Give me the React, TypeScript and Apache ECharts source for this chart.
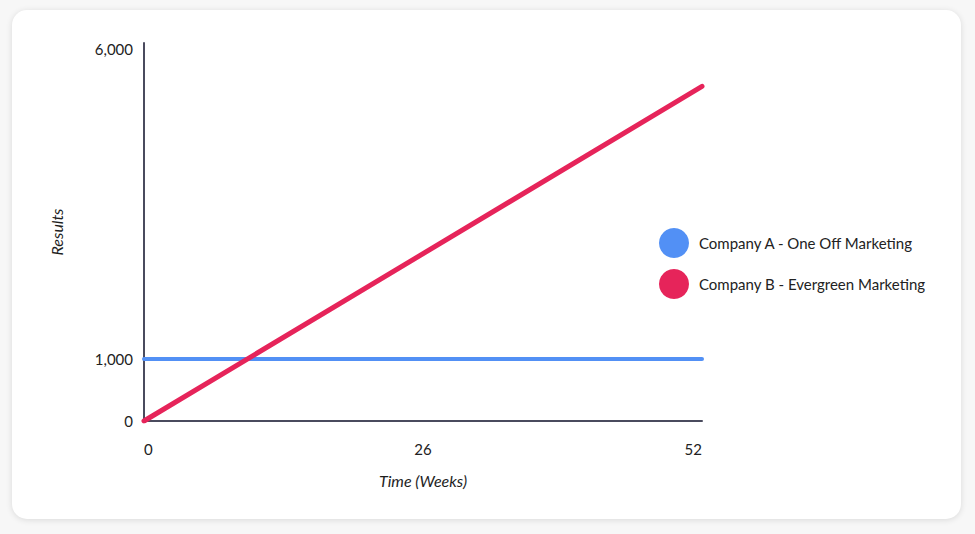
import React, { useEffect, useRef } from "react";
import * as echarts from "echarts";

const weeks = [0, 52];
const companyA = [1000, 1000];
const companyB = [0, 5400];
const yTicks = [0, 1000, 6000];
const xTicks = [0, 26, 52];
const seriesNames = ["Company A - One Off Marketing", "Company B - Evergreen Marketing"];

export default function App() {
  const ref = useRef<HTMLDivElement>(null);
  useEffect(() => {
    if (!ref.current) return;
    const chart = echarts.init(ref.current, null, { renderer: "svg" });
    const font = "Lato, 'Noto Sans', sans-serif";
    chart.setOption({
      animation: false,
      textStyle: { fontFamily: font },
      grid: { left: 144, right: 273, top: 43, bottom: 113 },
      xAxis: {
        type: "value",
        min: 0,
        max: 52,
        interval: 26,
        name: "Time (Weeks)",
        nameLocation: "middle",
        nameGap: 51,
        nameTextStyle: { fontFamily: font, fontStyle: "italic", fontSize: 16, color: "#1e1e1e" },
        axisLine: { show: true, lineStyle: { color: "#4a4b5e", width: 2 } },
        axisTick: { show: false },
        splitLine: { show: false },
        axisLabel: {
          customValues: xTicks,
          margin: 20,
          fontSize: 15,
          color: "#222",
          fontFamily: font,
          alignMinLabel: "left",
          alignMaxLabel: "right",
        },
      },
      yAxis: {
        type: "value",
        min: 0,
        max: 6100,
        name: "Results",
        nameLocation: "middle",
        nameGap: 80,
        nameRotate: 90,
        nameTextStyle: { fontFamily: font, fontStyle: "italic", fontSize: 16, color: "#1e1e1e" },
        axisLine: { show: true, lineStyle: { color: "#4a4b5e", width: 2 } },
        axisTick: { show: false },
        splitLine: { show: false },
        axisLabel: {
          customValues: yTicks,
          margin: 11,
          fontSize: 15,
          color: "#222",
          fontFamily: font,
          formatter: (v: number) => v.toLocaleString("en-US"),
        },
      },
      legend: {
        orient: "vertical",
        left: 659,
        top: 228,
        padding: 0,
        itemWidth: 30,
        itemHeight: 30,
        itemGap: 11,
        icon: "circle",
        textStyle: { fontFamily: font, fontSize: 15, color: "#222", padding: [0, 0, 0, 5] },
        data: seriesNames,
      },
      series: [
        {
          name: seriesNames[0],
          type: "line",
          data: weeks.map((w, i) => [w, companyA[i]]),
          showSymbol: false,
          color: "#5290f5",
          lineStyle: { width: 4, color: "#5290f5", cap: "round" },
          z: 2,
        },
        {
          name: seriesNames[1],
          type: "line",
          data: weeks.map((w, i) => [w, companyB[i]]),
          showSymbol: false,
          color: "#e6245a",
          lineStyle: { width: 5, color: "#e6245a", cap: "round" },
          z: 3,
        },
      ],
    });
    return () => chart.dispose();
  }, []);

  return (
    <div style={{ position: "fixed", left: 0, top: 0, width: 975, height: 534, background: "#f7f7f7", overflow: "hidden" }}>
      <div
        style={{
          position: "absolute",
          left: 12,
          top: 10,
          width: 949,
          height: 509,
          background: "#fff",
          borderRadius: 15,
          boxShadow: "0 1px 6px rgba(0,0,0,0.12)",
        }}
      />
      <div ref={ref} style={{ position: "absolute", left: 0, top: 0, width: 975, height: 534 }} />
    </div>
  );
}
